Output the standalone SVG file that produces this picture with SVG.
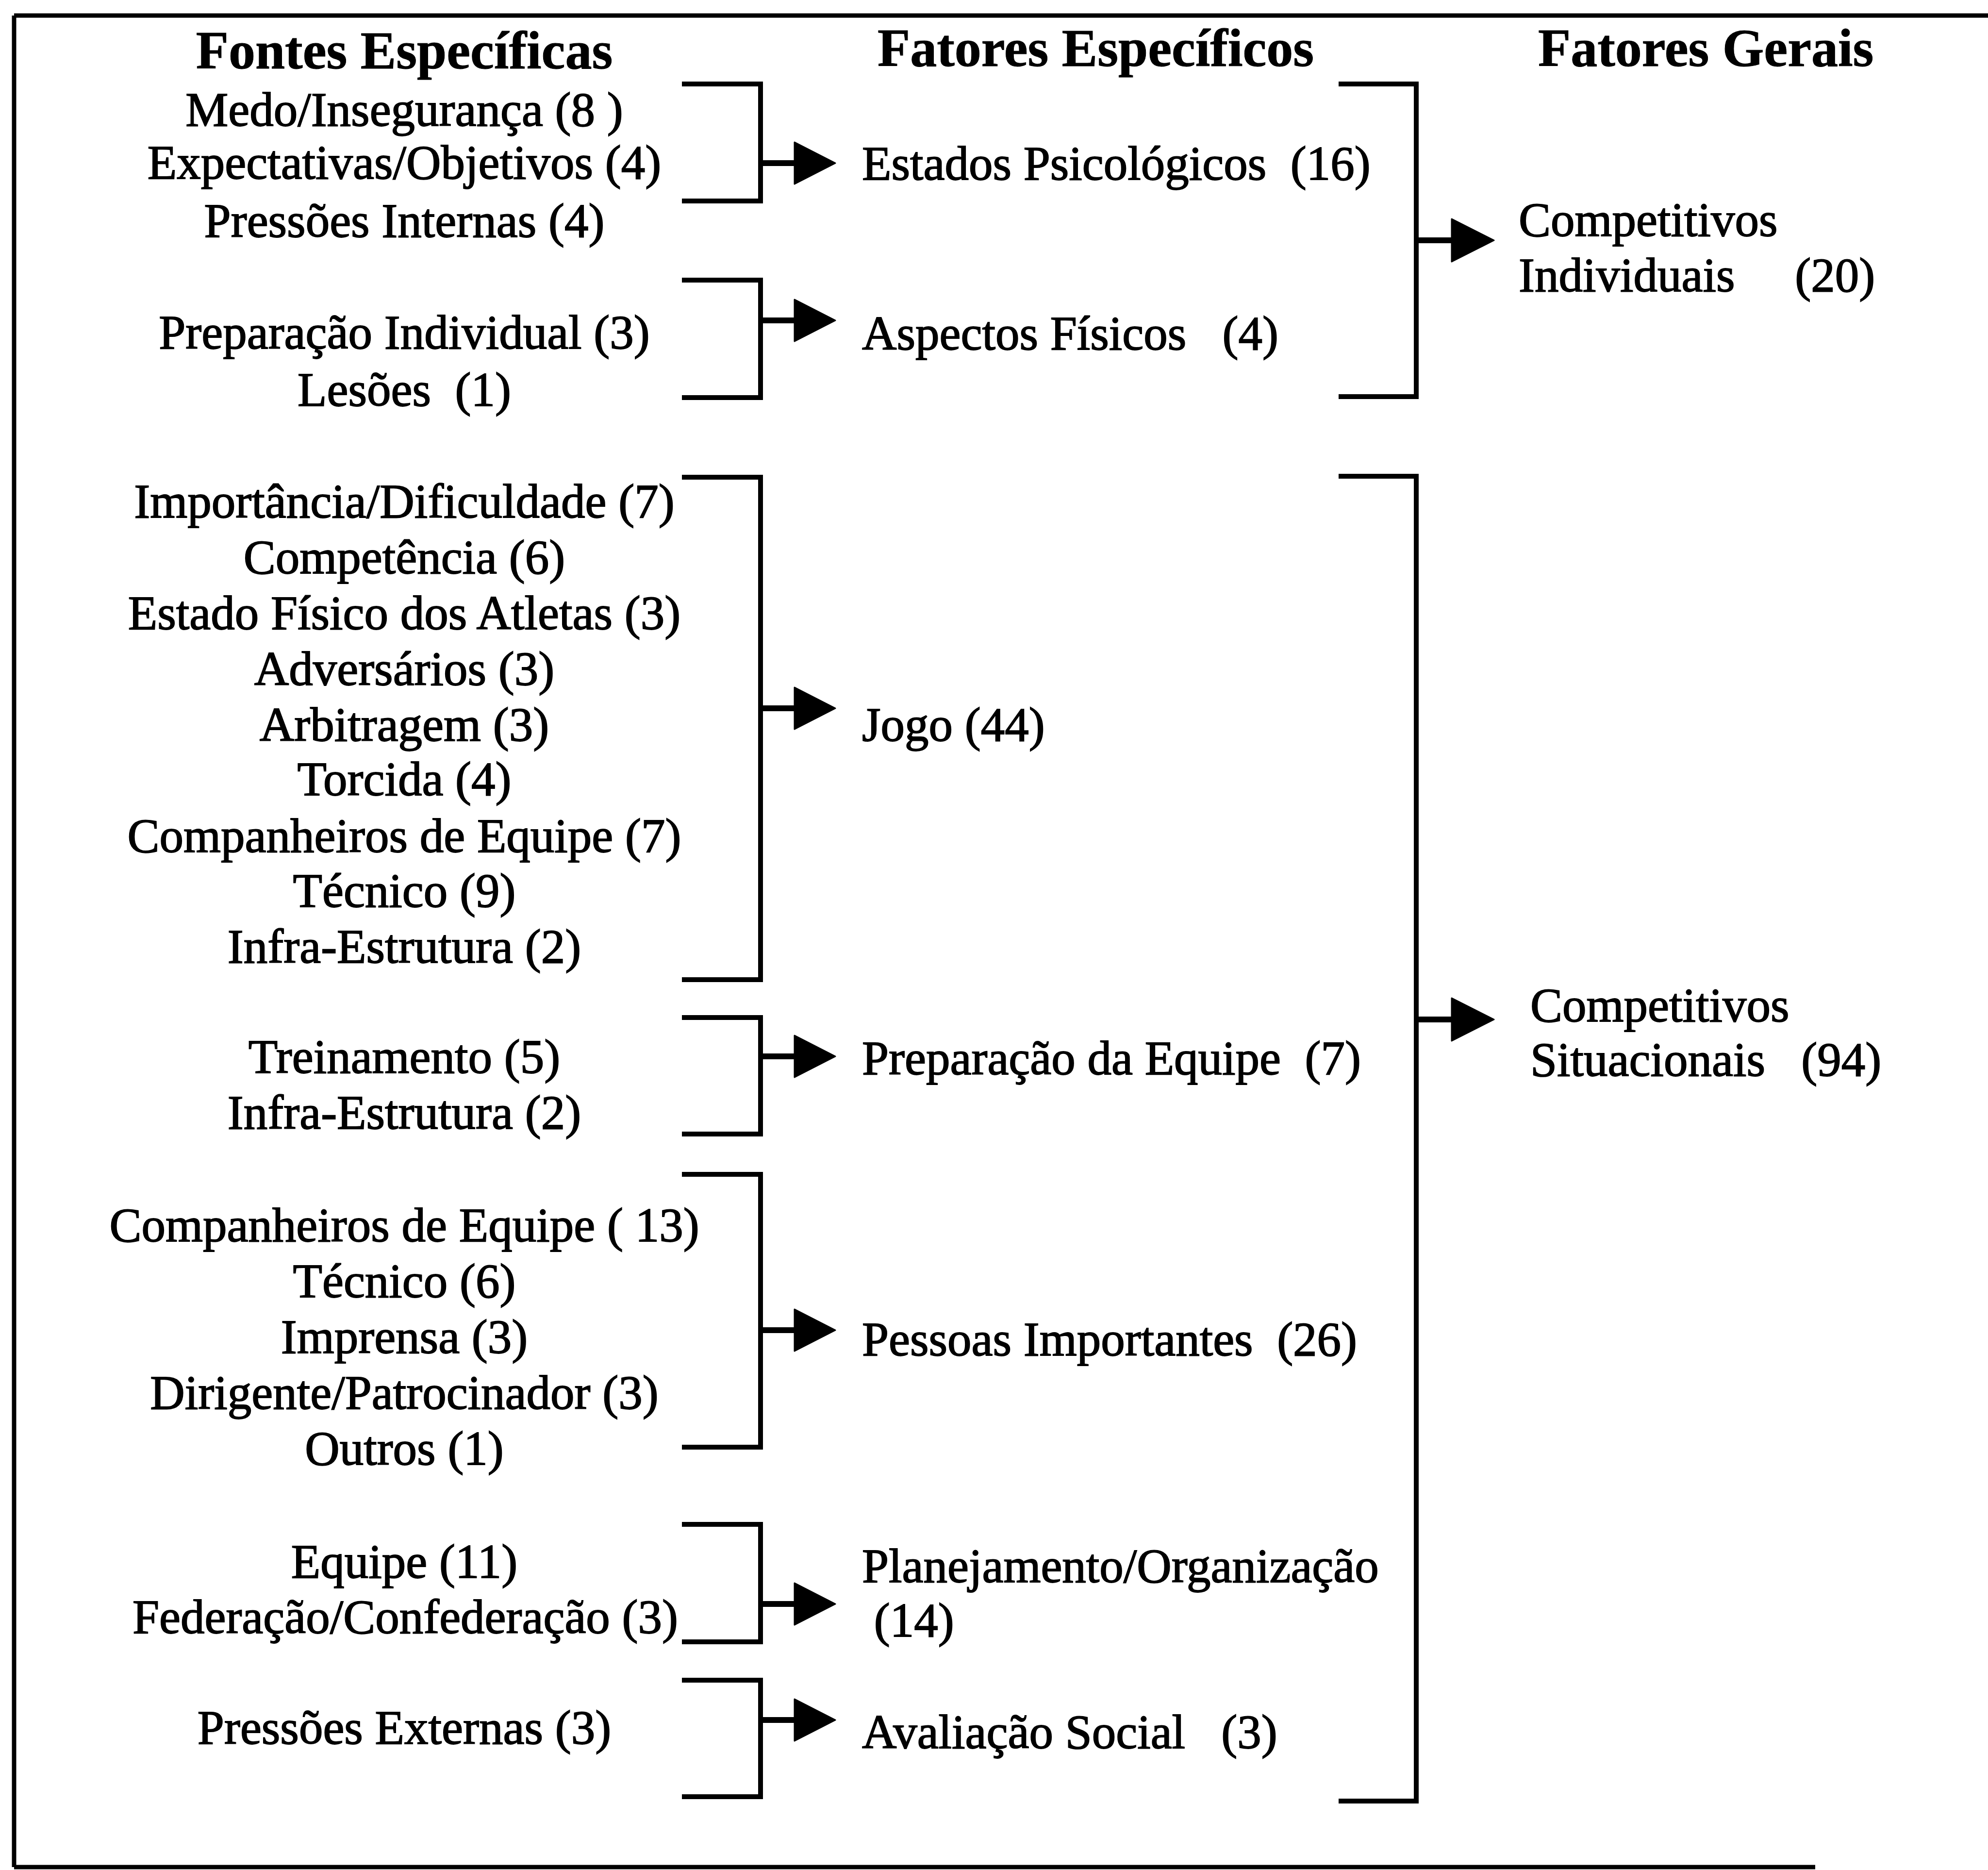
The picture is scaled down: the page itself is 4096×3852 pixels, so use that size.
<svg xmlns="http://www.w3.org/2000/svg" width="4096" height="3852" viewBox="0 0 4096 3852">
<style>
text { font-family: "Liberation Serif", "Times New Roman", serif; font-size: 99px; fill: #000; stroke: #000; stroke-width: 1.8px; }
.h { font-weight: bold; font-size: 110px; stroke-width: 1px; }
.c1 { text-anchor: middle; }
.br { fill: none; stroke: #000; stroke-width: 10; stroke-linejoin: miter; stroke-linecap: butt; }
.stem { stroke: #000; stroke-width: 12; }
.frame { fill: none; stroke: #000; stroke-width: 9; }
.head { fill: #000; stroke: #000; stroke-width: 3; stroke-linejoin: round; }
</style>
<defs>
<path id="ahL" class="head" d="M0,-43 L84,0 L0,43 Z"/>
<path id="ahR" class="head" d="M0,-44 L87,0 L0,44 Z"/>
</defs>
<rect x="0" y="0" width="4096" height="3852" fill="#fff"/>
<g id="frame">
<path class="frame" d="M29,32 H4096"/>
<path class="frame" d="M29,32 V3846"/>
<path class="frame" d="M29,3846 H3740"/>
</g>

<g id="connectors">
<path class="br" d="M1405,173 H1567 V414 H1405"/>
<line class="stem" x1="1567" y1="336" x2="1642" y2="336"/>
<use href="#ahL" x="1637" y="336"/>

<path class="br" d="M1405,577 H1567 V819 H1405"/>
<line class="stem" x1="1567" y1="660" x2="1642" y2="660"/>
<use href="#ahL" x="1637" y="660"/>

<path class="br" d="M1405,983 H1567 V2018 H1405"/>
<line class="stem" x1="1567" y1="1459" x2="1642" y2="1459"/>
<use href="#ahL" x="1637" y="1459"/>

<path class="br" d="M1405,2096 H1567 V2336 H1405"/>
<line class="stem" x1="1567" y1="2176" x2="1642" y2="2176"/>
<use href="#ahL" x="1637" y="2176"/>

<path class="br" d="M1405,2419 H1567 V2981 H1405"/>
<line class="stem" x1="1567" y1="2740" x2="1642" y2="2740"/>
<use href="#ahL" x="1637" y="2740"/>

<path class="br" d="M1405,3140 H1567 V3382 H1405"/>
<line class="stem" x1="1567" y1="3304" x2="1642" y2="3304"/>
<use href="#ahL" x="1637" y="3304"/>

<path class="br" d="M1405,3461 H1567 V3701 H1405"/>
<line class="stem" x1="1567" y1="3543" x2="1642" y2="3543"/>
<use href="#ahL" x="1637" y="3543"/>

<path class="br" d="M2758,173 H2918 V817 H2758"/>
<line class="stem" x1="2918" y1="495" x2="2995" y2="495"/>
<use href="#ahR" x="2991" y="495"/>

<path class="br" d="M2758,981 H2918 V3710 H2758"/>
<line class="stem" x1="2918" y1="2100" x2="2995" y2="2100"/>
<use href="#ahR" x="2991" y="2100"/>
</g>

<g id="header-fontes"><text class="h c1" x="833" y="141">Fontes Específicas</text></g>
<g id="header-fatores-especificos"><text class="h" x="1808" y="136">Fatores Específicos</text></g>
<g id="header-fatores-gerais"><text class="h" x="3169" y="136">Fatores Gerais</text></g>

<g id="src-estados-psicologicos">
<text class="c1" x="833" y="259">Medo/Insegurança (8 )</text>
<text class="c1" x="833" y="368">Expectativas/Objetivos (4)</text>
<text class="c1" x="833" y="488">Pressões Internas (4)</text>
</g>
<g id="src-aspectos-fisicos">
<text class="c1" x="833" y="718">Preparação Individual (3)</text>
<text class="c1" x="833" y="836" xml:space="preserve">Lesões  (1)</text>
</g>
<g id="src-jogo">
<text class="c1" x="833" y="1066">Importância/Dificuldade (7)</text>
<text class="c1" x="833" y="1181">Competência (6)</text>
<text class="c1" x="833" y="1296">Estado Físico dos Atletas (3)</text>
<text class="c1" x="833" y="1411">Adversários (3)</text>
<text class="c1" x="833" y="1526">Arbitragem (3)</text>
<text class="c1" x="833" y="1638">Torcida (4)</text>
<text class="c1" x="833" y="1755">Companheiros de Equipe (7)</text>
<text class="c1" x="833" y="1868">Técnico (9)</text>
<text class="c1" x="833" y="1983">Infra-Estrutura (2)</text>
</g>
<g id="src-preparacao-equipe">
<text class="c1" x="833" y="2210">Treinamento (5)</text>
<text class="c1" x="833" y="2325">Infra-Estrutura (2)</text>
</g>
<g id="src-pessoas-importantes">
<text class="c1" x="833" y="2557">Companheiros de Equipe ( 13)</text>
<text class="c1" x="833" y="2672">Técnico (6)</text>
<text class="c1" x="833" y="2787">Imprensa (3)</text>
<text class="c1" x="833" y="2902">Dirigente/Patrocinador (3)</text>
<text class="c1" x="833" y="3017">Outros (1)</text>
</g>
<g id="src-planejamento">
<text class="c1" x="833" y="3250">Equipe (11)</text>
<text class="c1" x="835" y="3364">Federação/Confederação (3)</text>
</g>
<g id="src-avaliacao-social">
<text class="c1" x="833" y="3592">Pressões Externas (3)</text>
</g>

<g id="fe-estados-psicologicos"><text x="1776" y="370" xml:space="preserve">Estados Psicológicos  (16)</text></g>
<g id="fe-aspectos-fisicos"><text x="1776" y="720" xml:space="preserve">Aspectos Físicos   (4)</text></g>
<g id="fe-jogo"><text x="1776" y="1526">Jogo (44)</text></g>
<g id="fe-preparacao-equipe"><text x="1776" y="2213" xml:space="preserve">Preparação da Equipe  (7)</text></g>
<g id="fe-pessoas-importantes"><text x="1776" y="2792" xml:space="preserve">Pessoas Importantes  (26)</text></g>
<g id="fe-planejamento">
<text x="1776" y="3259">Planejamento/Organização</text>
<text x="1776" y="3371" xml:space="preserve"> (14)</text>
</g>
<g id="fe-avaliacao-social"><text x="1776" y="3601" xml:space="preserve">Avaliação Social   (3)</text></g>

<g id="fg-individuais">
<text x="3129" y="486">Competitivos</text>
<text x="3129" y="600" xml:space="preserve">Individuais     (20)</text>
</g>
<g id="fg-situacionais">
<text x="3153" y="2104">Competitivos</text>
<text x="3153" y="2216" xml:space="preserve">Situacionais   (94)</text>
</g>
</svg>
